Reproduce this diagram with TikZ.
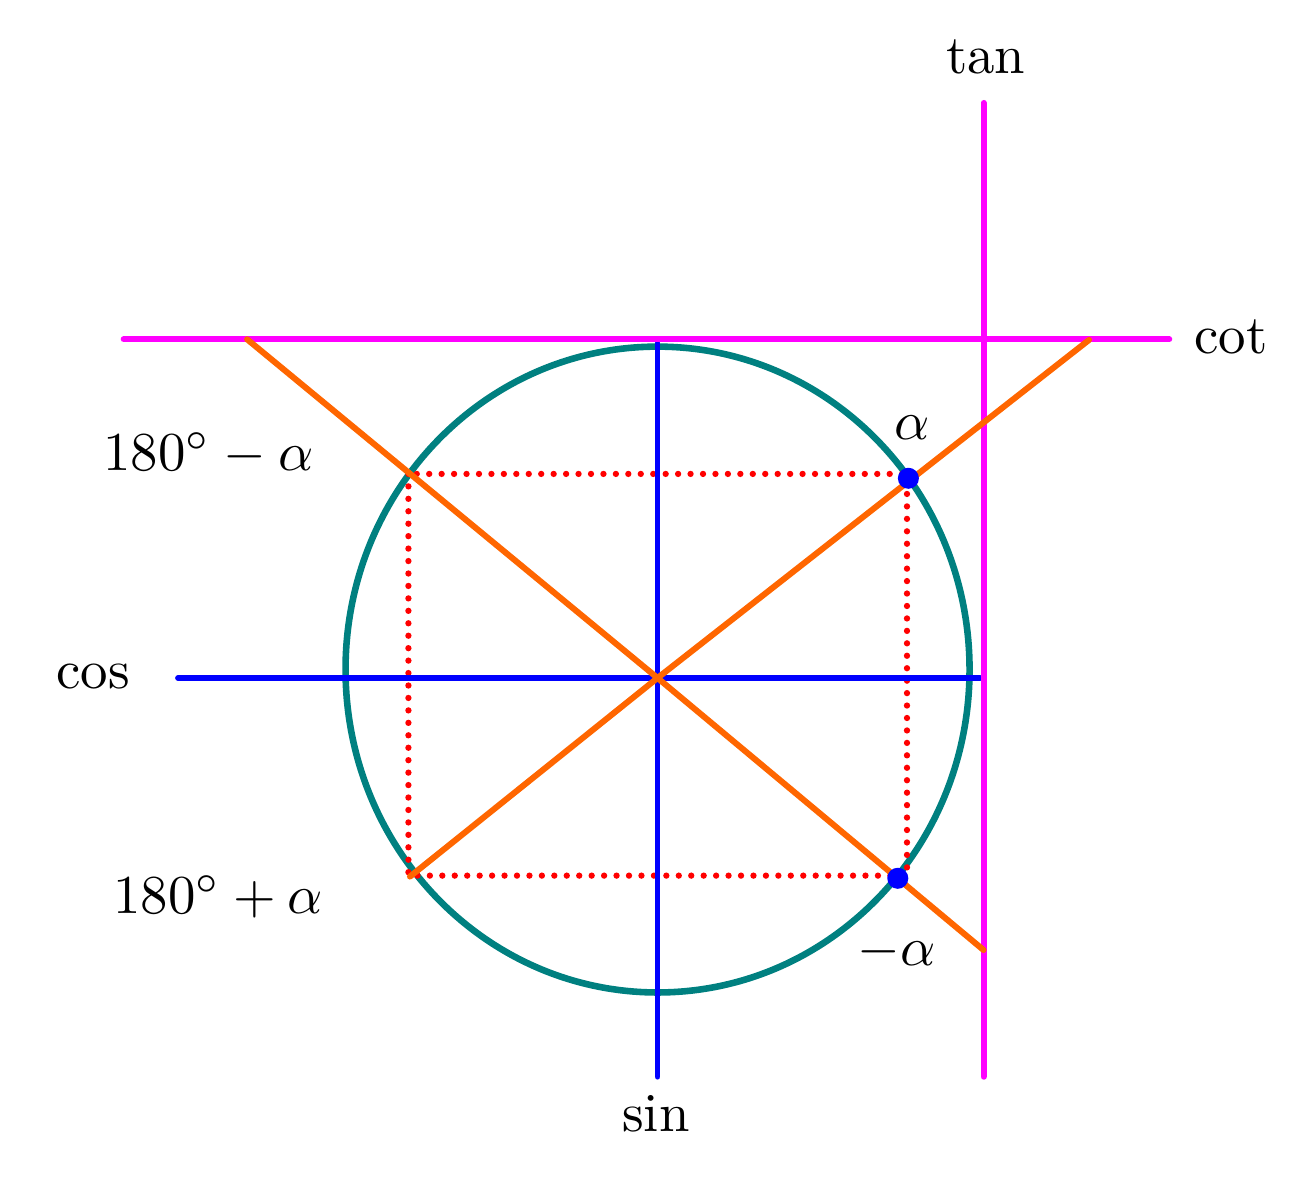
\documentclass[tikz,border=0pt]{standalone}
\usepackage{amsmath}
\definecolor{rayorange}{RGB}{255,102,0}
\definecolor{circteal}{RGB}{0,128,128}
\definecolor{tmagenta}{RGB}{255,0,255}

\begin{document}
\begin{tikzpicture}[
    axis/.style={blue, line width=1.05pt, line cap=round},
    tline/.style={tmagenta, line width=1.1pt, line cap=round},
    ray/.style={rayorange, line width=1.1pt, line cap=round},
    proj/.style={red, line width=1.15pt, line cap=round, dash pattern=on 0pt off 2.27pt},
    pt/.style={circle, fill=blue, inner sep=0pt, minimum size=0.135cm},
    lbl/.style={anchor=base, inner sep=0pt}]
  \useasboundingbox (-4.215,-3.327) rectangle (4.208,4.346);
  % unit circle
  \draw[circteal, line width=1.2pt] (0,0.054) ellipse [x radius=2, y radius=2.07];
  % projections
  \draw[proj] (-1.597,1.308) rectangle (1.599,-1.267);
  % axes
  \coordinate (o) at (0,0);
  \coordinate (s1) at (0,2.147);
  \coordinate (s2) at (0,-2.556);
  \coordinate (c1) at (-3.074,0);
  \coordinate (c2) at (2.067,0);
  \draw[axis] (s1) -- (s2);
  \draw[axis] (c1) -- (c2);
  % tan and cot lines
  \coordinate (t1) at (2.09,3.686);
  \coordinate (t2) at (2.09,-2.556);
  \coordinate (k1) at (-3.422,2.171);
  \coordinate (k2) at (3.28,2.171);
  \draw[tline] (t1) -- (t2);
  \draw[tline] (k1) -- (k2);
  % rays
  \coordinate (r1) at (-2.631,2.171);
  \coordinate (r2) at (2.09,-1.744);
  \coordinate (r3) at (-1.587,-1.273);
  \coordinate (r4) at (2.766,2.167);
  \draw[ray] (r1) -- (o) -- (r2);
  \draw[ray] (r3) -- (o) -- (r4);
  % points
  \node[pt] (a) at (1.608,1.280) {};
  \node[pt] (b) at (1.540,-1.284) {};
  % labels
  \node[lbl] (ltan) at (2.104,3.876) {tan};
  \node[lbl] (lcot) at (3.676,2.083) {cot};
  \node[lbl] (lcos) at (-3.617,-0.066) {cos};
  \node[lbl] (lsin) at (-0.01,-2.904) {sin};
  \node[lbl] (la) at (1.631,1.526) {$\alpha$};
  \node[lbl] (lb) at (1.532,-1.846) {$-\alpha$};
  \node[lbl] (lc) at (-2.879,1.333) {$180^\circ - \alpha$};
  \node[lbl] (ld) at (-2.815,-1.508) {$180^\circ + \alpha$};
\end{tikzpicture}
\end{document}
